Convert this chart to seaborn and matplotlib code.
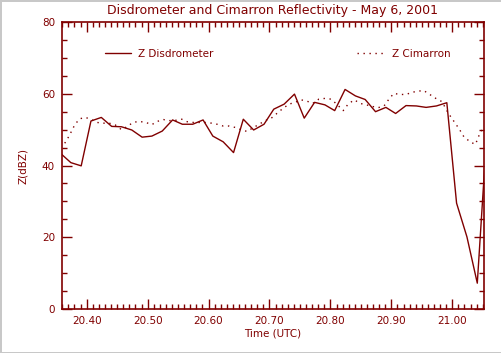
import matplotlib
matplotlib.use("Agg")
import matplotlib.pyplot as plt
from matplotlib.ticker import MultipleLocator, FormatStrFormatter
import seaborn as sns
import pandas as pd

sns.set_style("white")
plt.rcParams['font.family'] = ['DejaVu Sans']

RED = "#800000"

# Disdrometer (solid), time in UTC hours
disd_time = [20.357, 20.374, 20.391, 20.407, 20.424, 20.441, 20.457, 20.474, 20.491, 20.507,
             20.524, 20.541, 20.557, 20.574, 20.591, 20.607, 20.624, 20.641, 20.657, 20.674,
             20.691, 20.707, 20.724, 20.741, 20.757, 20.774, 20.791, 20.807, 20.824, 20.841,
             20.857, 20.874, 20.891, 20.907, 20.924, 20.941, 20.957, 20.974, 20.991, 21.007,
             21.024, 21.041, 21.057]
disd_z = [43.4, 40.8, 39.9, 52.4, 53.4, 50.9, 50.8, 49.9, 47.9, 48.2,
          49.6, 52.7, 51.5, 51.5, 52.7, 48.2, 46.6, 43.6, 52.9, 49.9,
          51.5, 55.7, 57.1, 59.9, 53.2, 57.6, 56.9, 55.3, 61.2, 59.4,
          58.4, 55.0, 56.2, 54.5, 56.7, 56.6, 56.2, 56.6, 57.5, 29.5,
          20.1, 7.2, 50.0]

# Cimarron radar (dotted)
cim_time = [20.364, 20.370, 20.375, 20.380, 20.388, 20.398, 20.408, 20.417, 20.427, 20.437,
            20.447, 20.457, 20.466, 20.476, 20.486, 20.497, 20.507, 20.516, 20.526, 20.535,
            20.546, 20.556, 20.565, 20.575, 20.585, 20.595, 20.605, 20.614, 20.624, 20.634,
            20.644, 20.653, 20.663, 20.673, 20.683, 20.693, 20.703, 20.712, 20.722, 20.732,
            20.742, 20.752, 20.762, 20.771, 20.781, 20.791, 20.801, 20.811, 20.821, 20.829,
            20.839, 20.849, 20.859, 20.868, 20.878, 20.888, 20.896, 20.904, 20.914, 20.924,
            20.934, 20.943, 20.953, 20.963, 20.973, 20.983, 20.993, 20.999, 21.006, 21.013,
            21.019, 21.030, 21.038, 21.042, 21.046, 21.053]
cim_z = [46.2, 47.9, 49.5, 51.2, 53.0, 53.4, 52.8, 52.0, 51.8, 51.8,
         51.3, 50.0, 50.8, 52.0, 52.3, 52.0, 51.4, 52.3, 52.8, 52.5,
         52.6, 52.9, 52.2, 52.0, 52.0, 52.0, 51.8, 51.5, 51.0, 51.0,
         50.6, 50.0, 49.5, 50.5, 51.5, 52.5, 53.2, 54.5, 55.9, 57.1,
         57.6, 58.3, 57.9, 57.3, 58.5, 58.7, 58.5, 57.0, 55.3, 57.1,
         58.3, 57.3, 56.9, 56.5, 56.1, 56.6, 58.5, 60.1, 59.8, 59.8,
         60.4, 60.7, 60.9, 59.8, 58.7, 57.8, 54.7, 53.2, 51.5, 49.7,
         48.0, 46.5, 45.9, 47.6, 49.3, 51.0]

title = "Disdrometer and Cimarron Reflectivity - May 6, 2001"
xlabel = "Time (UTC)"
ylabel = "Z(dBZ)"
label_disd = "Z Disdrometer"
label_cim = "Z Cimarron"

df_d = pd.DataFrame({"t": disd_time, "z": disd_z})
df_c = pd.DataFrame({"t": cim_time, "z": cim_z})

fig = plt.figure(figsize=(5.02, 3.53), dpi=100)
fig.patch.set_facecolor("white")
ax = fig.add_axes([62/502, 1-309/353, (484-62)/502, (309-22)/353])

sns.lineplot(data=df_d, x="t", y="z", ax=ax, color=RED, linewidth=1.0,
             sort=False, estimator=None)
sns.lineplot(data=df_c, x="t", y="z", ax=ax, color=RED, linewidth=1.0,
             sort=False, estimator=None)
l_d, l_c = ax.get_lines()[0], ax.get_lines()[1]
l_c.set_linestyle((0, (1.0, 3.3)))

ax.set_xlim(20.3595, 21.052)
ax.set_ylim(0, 80)

ax.xaxis.set_major_locator(MultipleLocator(0.1))
ax.xaxis.set_minor_locator(MultipleLocator(0.01))
ax.xaxis.set_major_formatter(FormatStrFormatter("%.2f"))
ax.yaxis.set_major_locator(MultipleLocator(20))
ax.yaxis.set_minor_locator(MultipleLocator(5))
ax.yaxis.set_major_formatter(FormatStrFormatter("%d"))

ax.tick_params(which="both", direction="in", top=True, right=True, bottom=True, left=True,
               colors=RED, labelcolor=RED, labelsize=7.5, width=1)
ax.tick_params(which="major", length=7, pad=5)
ax.tick_params(which="minor", length=3.5)
for s in ax.spines.values():
    s.set_color(RED)
    s.set_linewidth(1.2)

ax.set_title(title, color=RED, fontsize=9, pad=6)
ax.set_xlabel(xlabel, color=RED, fontsize=7.5, labelpad=2)
ax.set_ylabel(ylabel, color=RED, fontsize=7.5, labelpad=10)

leg1 = ax.legend(handles=[l_d], labels=[label_disd], loc="center left",
                 bbox_to_anchor=(0.102, 0.889), frameon=False, borderpad=0,
                 borderaxespad=0, handlelength=2.5, handletextpad=0.7,
                 fontsize=7.5, labelcolor=RED)
ax.add_artist(leg1)
ax.legend(handles=[l_c], labels=[label_cim], loc="center left",
          bbox_to_anchor=(0.699, 0.889), frameon=False, borderpad=0,
          borderaxespad=0, handlelength=2.5, handletextpad=0.9,
          fontsize=7.5, labelcolor=RED)

fig.patch.set_edgecolor("#c8c8c8")
fig.patch.set_linewidth(2)

fig.savefig("out.png", dpi=100, facecolor=fig.get_facecolor(), edgecolor=fig.get_edgecolor())
